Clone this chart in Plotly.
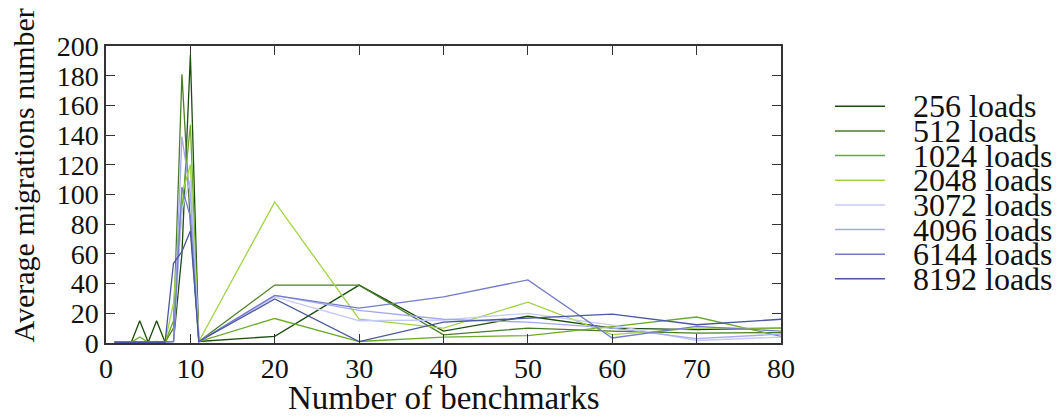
import plotly.graph_objects as go

# Benchmark counts on the x axis
benchmarks = [1, 2, 3, 4, 5, 6, 7, 8, 9, 10, 11, 20, 30, 40, 50, 60, 70, 80]

# Average migrations per series (one list per load size)
loads_256 = [0.5, 0.5, 0.5, 15, 0.5, 15, 0.5, 1, 60, 194, 1, 4.5, 39, 8, 18, 10, 9, 10]
loads_512 = [0.5, 0.5, 0.5, 1, 0.5, 1, 0.5, 10, 181, 80, 1, 39, 39, 5.5, 10, 8, 6.7, 7]
loads_1024 = [0.5, 0.5, 0.5, 4, 0.5, 1, 0.5, 15, 90, 147, 1, 16.5, 1, 4, 5, 11, 17.5, 4.5]
loads_2048 = [0.5, 0.5, 0.5, 1, 0.5, 1, 0.5, 27, 100, 120, 1, 95, 16, 10, 27.5, 5.6, 10, 10]
loads_3072 = [0.5, 0.5, 0.5, 0.5, 0.5, 0.5, 0.5, 1, 90, 110, 1, 31, 15, 15.5, 20, 12, 1.7, 4]
loads_4096 = [0.5, 0.5, 0.5, 0.5, 0.5, 0.5, 0.5, 1, 139, 100, 1, 32, 22, 16, 14, 10, 3, 6]
loads_6144 = [0.5, 0.5, 0.5, 0.5, 0.5, 0.5, 0.5, 1, 105, 85, 1, 32, 23.5, 31, 42.5, 3.4, 11.2, 8]
loads_8192 = [0.5, 0.5, 0.5, 0.5, 0.5, 0.5, 0.5, 53.7, 61.6, 75.5, 1, 29.6, 1, 14, 17, 19.5, 12.3, 16]

series_names = ["256 loads", "512 loads", "1024 loads", "2048 loads",
                "3072 loads", "4096 loads", "6144 loads", "8192 loads"]
series_values = [loads_256, loads_512, loads_1024, loads_2048,
                 loads_3072, loads_4096, loads_6144, loads_8192]
series_colors = ["#1b4d0e", "#4a7d28", "#6aab2a", "#9fd444",
                 "#c6caf6", "#a4a9ef", "#747cc8", "#4a57a0"]

x_ticks = [0, 10, 20, 30, 40, 50, 60, 70, 80]
y_ticks = [0, 20, 40, 60, 80, 100, 120, 140, 160, 180, 200]

FONT = "Liberation Serif"
TEXT = "#111111"

fig = go.Figure()
for name, vals, col in zip(series_names, series_values, series_colors):
    fig.add_trace(go.Scatter(
        x=benchmarks, y=vals, mode="lines", name=name,
        line=dict(color=col, width=1.3), showlegend=False,
    ))

# Hand-built key on the right: short line sample + label per series
key_top = 0.797
key_step = 0.083
for i, (name, col) in enumerate(zip(series_names, series_colors)):
    yk = key_top - i * key_step
    fig.add_shape(type="line", xref="paper", yref="paper",
                  x0=1.08, x1=1.154, y0=yk, y1=yk,
                  line=dict(color=col, width=1.5))
    fig.add_annotation(xref="paper", yref="paper", x=1.192, y=yk,
                       xanchor="left", yanchor="middle", text=name,
                       showarrow=False, font=dict(family=FONT, size=32, color=TEXT))

# Axis titles
fig.add_annotation(xref="paper", yref="paper", x=0.5, y=-0.185,
                   xanchor="center", yanchor="middle", text="Number of benchmarks",
                   showarrow=False, font=dict(family=FONT, size=33, color=TEXT))
fig.add_annotation(xref="paper", yref="paper", x=-0.1215, y=0.564,
                   xanchor="center", yanchor="middle", text="Average migrations number",
                   textangle=-90, showarrow=False,
                   font=dict(family=FONT, size=30, color=TEXT))

axis_common = dict(
    showgrid=False, zeroline=False, showline=True, linecolor="#333333",
    linewidth=1.5, mirror="ticks", ticks="inside", ticklen=9,
    tickwidth=1.3, tickcolor="#333333",
    tickfont=dict(family=FONT, size=28, color=TEXT),
)

fig.update_xaxes(range=[0, 80], tickvals=x_ticks, **axis_common)
# thin spaces after the numbers keep the labels clear of the frame
fig.update_yaxes(range=[0, 200], tickvals=y_ticks, ticksuffix="\u2009\u2009",
                 **axis_common)

fig.update_layout(
    width=1060, height=418,
    margin=dict(l=106, r=279, t=46, b=75),
    paper_bgcolor="white", plot_bgcolor="white",
    font=dict(family=FONT, color=TEXT),
)

fig.write_html("out.html")
